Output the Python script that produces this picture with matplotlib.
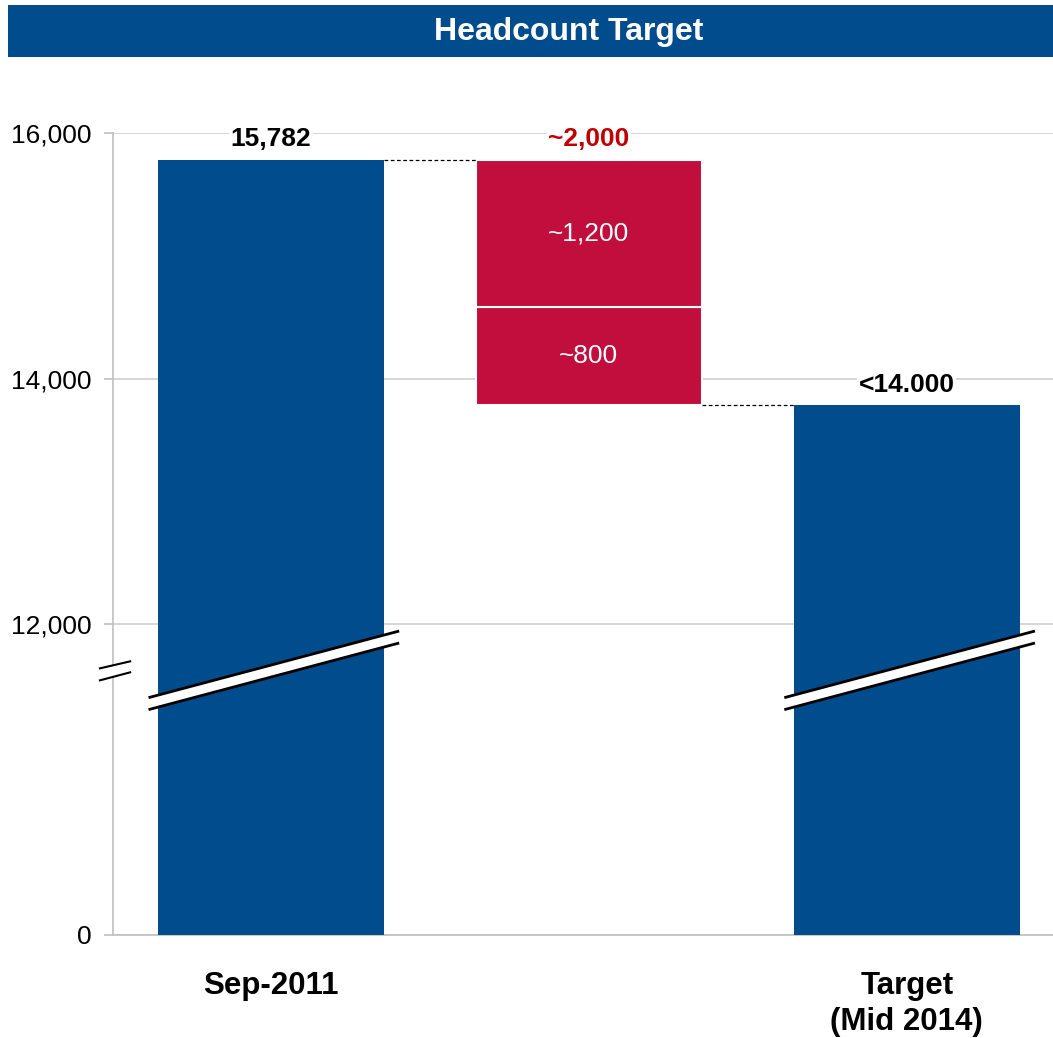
import numpy as np
import matplotlib
matplotlib.use("Agg")
import matplotlib.pyplot as plt
import matplotlib.ticker as ticker
from matplotlib.patches import Rectangle, Polygon

plt.rcParams["font.family"] = ["Liberation Sans", "DejaVu Sans"]

# ------------------------------------------------------------------
# Data
# ------------------------------------------------------------------
categories = ["Sep-2011", "", "Target\n(Mid 2014)"]
start_value = 15782
reduction_parts = [800, 1200]          # bottom -> top of the red bar
target_value = start_value - sum(reduction_parts)
value_labels = ["15,782", "~2,000", "<14.000"]
part_labels = ["~800", "~1,200"]
y_ticks = [0, 12000, 14000, 16000]

BLUE = "#004C8C"
RED = "#C10E3D"
GRID = "#D0D0D0"

# broken axis: 0..12000 compressed, 12000..16000 stretched
def fwd(v):
    v = np.asarray(v, dtype=float)
    return np.where(v <= 12000, v * 311 / 12000, 311 + (v - 12000) * 246 / 2000)

def inv(u):
    u = np.asarray(u, dtype=float)
    return np.where(u <= 311, u * 12000 / 311, 12000 + (u - 311) * 2000 / 246)


fig = plt.figure(figsize=(10.53, 10.38), dpi=100)

# title banner
fig.add_artist(Rectangle((8 / 1053, 1 - 57 / 1038), 1 - 8 / 1053, 52 / 1038,
                         transform=fig.transFigure, facecolor=BLUE, edgecolor="none"))
fig.text(0.540, 1 - 32 / 1038, "Headcount Target", color="white", fontsize=23,
         fontweight="bold", ha="center", va="center")

ax = fig.add_axes([113 / 1053, 1 - 935 / 1038, 1 - 113 / 1053, (935 - 133) / 1038])
ax.set_yscale("function", functions=(fwd, inv))
ax.set_ylim(0, 16000)
ax.set_xlim(-0.497, 2.46)

x = np.arange(len(categories))
w = 0.711

# bars
ax.bar([x[0], x[2]], [start_value, target_value], width=w, color=BLUE, zorder=3)
bottom = target_value
for part, lab in zip(reduction_parts, part_labels):
    ax.bar(x[1], part, bottom=bottom, width=w, color=RED, edgecolor="white",
           linewidth=1.5, zorder=3)
    ax.text(x[1], bottom + part / 2, lab, color="white", fontsize=19,
            ha="center", va="center", zorder=4)
    bottom += part

# connectors
ax.plot([x[0] + w / 2, x[1] - w / 2], [start_value, start_value], color="black",
        linestyle=(0, (3, 2)), linewidth=0.9, zorder=4)
ax.plot([x[1] + w / 2, x[2] - w / 2], [target_value, target_value], color="black",
        linestyle=(0, (3, 2)), linewidth=0.9, zorder=4)

# value labels above bars
tops = [start_value, start_value, target_value]
colors = ["black", "#C00000", "black"]
for xi, top, lab, c in zip(x, tops, value_labels, colors):
    ax.annotate(lab, (xi, top), xytext=(0, 6), textcoords="offset points",
                ha="center", va="bottom", fontsize=19, fontweight="bold", color=c,
                zorder=5, bbox=dict(facecolor="white", edgecolor="none", pad=1))

# break marks on the bars
for xc in [x[0], x[2]]:
    xl, xr = xc - 0.381, xc + 0.399
    upper = [9183, 11730]
    lower = [8720, 11267]
    ax.add_patch(Polygon([[xl, upper[0]], [xr, upper[1]], [xr, lower[1]], [xl, lower[0]]],
                         closed=True, facecolor="white", edgecolor="none",
                         zorder=6, clip_on=False))
    ax.plot([xl, xr], upper, color="black", linewidth=2, zorder=7, clip_on=False)
    ax.plot([xl, xr], lower, color="black", linewidth=2, zorder=7, clip_on=False)

# break mark on the y axis
ax.add_patch(Polygon([[-0.538, 10302], [-0.443, 10572], [-0.443, 10148], [-0.538, 9839]],
                     closed=True, facecolor="white", edgecolor="none",
                     zorder=6, clip_on=False))
ax.plot([-0.538, -0.443], [10302, 10572], color="black", linewidth=1.5, zorder=7, clip_on=False)
ax.plot([-0.538, -0.443], [9839, 10148], color="black", linewidth=1.5, zorder=7, clip_on=False)

# axes styling
ax.set_yticks(y_ticks)
ax.yaxis.set_major_formatter(ticker.FuncFormatter(lambda v, _: f"{int(round(v)):,}"))
ax.yaxis.set_minor_locator(ticker.NullLocator())
ax.tick_params(axis="y", length=6.5, color="#BFBFBF", width=1.2, labelsize=19, pad=9)
ax.grid(axis="y", color=GRID, linewidth=1.2, zorder=0)

ax.set_xticks([x[0], x[2]])
ax.set_xticklabels([categories[0], categories[2]], fontsize=22.5, fontweight="bold",
                   linespacing=1.25)
ax.tick_params(axis="x", length=0, pad=26)

for s in ["top", "right"]:
    ax.spines[s].set_visible(False)
for s in ["left", "bottom"]:
    ax.spines[s].set_color("#BFBFBF")
    ax.spines[s].set_linewidth(1.2)

fig.savefig("out.png", dpi=100)
